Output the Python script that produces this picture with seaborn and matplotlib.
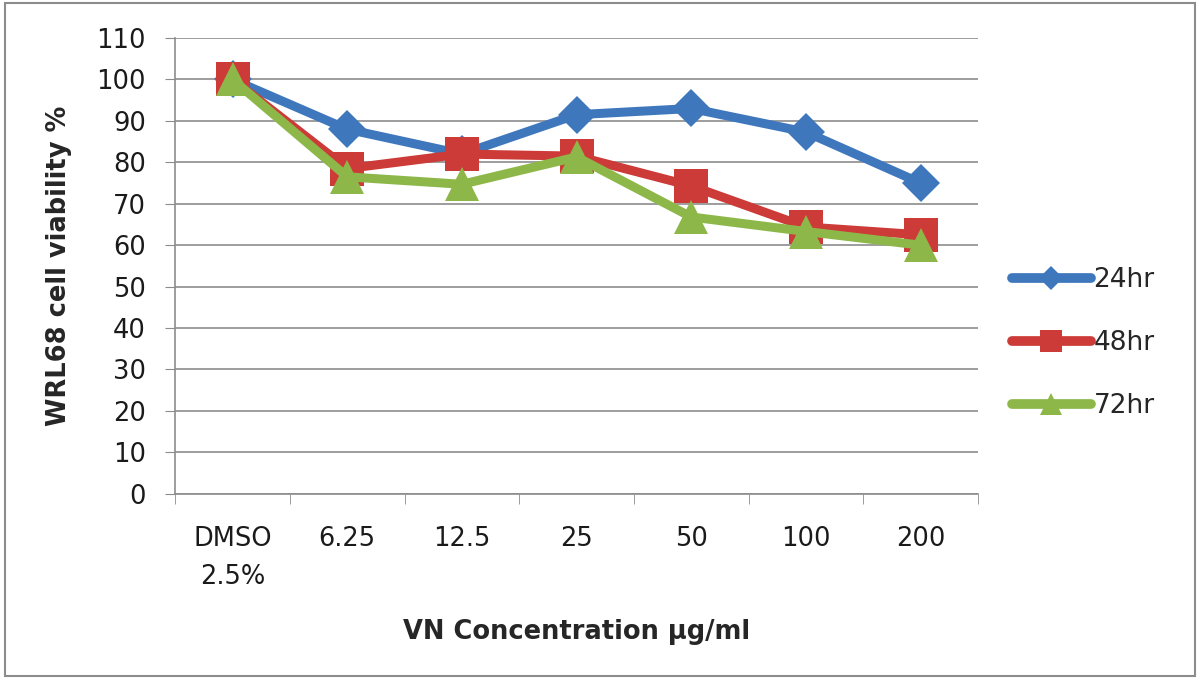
import matplotlib.pyplot as plt
import seaborn as sns
import pandas as pd
from matplotlib.patches import Rectangle

# Data
concentrations = ['DMSO\n2.5%', '6.25', '12.5', '25', '50', '100', '200']
viab_24 = [100, 88, 82, 91.5, 93, 87.3, 75]
viab_48 = [100, 78.5, 82, 81.5, 74.3, 64.4, 62.5]
viab_72 = [100, 76.5, 74.7, 81.3, 66.8, 63.3, 60]
series_names = ['24hr', '48hr', '72hr']

data = pd.DataFrame({
    'Concentration': concentrations * 3,
    'Viability': viab_24 + viab_48 + viab_72,
    'Time': [s for s in series_names for _ in concentrations],
})

colors = {'24hr': '#3F77BD', '48hr': '#CC3B37', '72hr': '#8DB849'}
markers = {'24hr': 'D', '48hr': 's', '72hr': '^'}
msizes = {'24hr': 19, '48hr': 24, '72hr': 24}
leg_sizes = {'24hr': 12, '48hr': 16, '72hr': 16}

sns.set_style('white')
plt.rcParams['font.family'] = ['DejaVu Sans']

fig = plt.figure(figsize=(12, 6.8), dpi=100)
ax = fig.add_axes([0.146, 0.274, 0.669, 0.67])

# one call per series so each marker can get its own size
for s in series_names:
    sub = data[data['Time'] == s]
    sns.lineplot(data=sub, x='Concentration', y='Viability', color=colors[s],
                 marker=markers[s], sort=False, linewidth=6.5, markersize=msizes[s],
                 markeredgewidth=0, ax=ax, legend=False)

ax.set_ylim(0, 110)
ax.set_yticks(range(0, 111, 10))
ax.set_xlim(-0.5, len(concentrations) - 0.5)
ax.yaxis.grid(True, color='#8c8c8c', linewidth=1.2)
ax.xaxis.grid(False)
for side in ['top', 'right']:
    ax.spines[side].set_visible(False)
for side in ['left', 'bottom']:
    ax.spines[side].set_color('#8c8c8c')
    ax.spines[side].set_linewidth(1.2)

ax.tick_params(axis='y', which='major', left=True, length=7, color='#8c8c8c',
               labelsize=18.5, pad=14, labelcolor='#1a1a1a')
ax.tick_params(axis='x', which='major', bottom=False, labelsize=18.5, pad=20,
               labelcolor='#1a1a1a')
ax.set_xticks([i + 0.5 for i in range(-1, len(concentrations))], minor=True)
ax.tick_params(axis='x', which='minor', bottom=True, length=7, color='#8c8c8c')
for lbl in ax.get_xticklabels():
    lbl.set_linespacing(1.6)

ax.set_xlabel('VN Concentration µg/ml', fontsize=18.5, fontweight='bold')
ax.set_ylabel('WRL68 cell viability %', fontsize=18.5, fontweight='bold')
ax.xaxis.set_label_coords(0.5, -0.275)
ax.yaxis.set_label_coords(-0.128, 0.5)

# legend on the right
handles = [plt.Line2D([], [], color=colors[s], marker=markers[s], linewidth=7,
                      markersize=leg_sizes[s], markeredgewidth=0, solid_capstyle='round')
           for s in series_names]
ax.legend(handles, series_names, loc='center left', bbox_to_anchor=(1.042, 0.331),
          frameon=False, fontsize=19, handlelength=3.0, labelspacing=1.4,
          handletextpad=0.1, borderpad=0, borderaxespad=0)

# outer border
fig.patches.append(Rectangle((0.004, 0.006), 0.992, 0.989, transform=fig.transFigure,
                             fill=False, edgecolor='#8c8c8c', linewidth=1.5))

fig.savefig('out.png', dpi=100)
